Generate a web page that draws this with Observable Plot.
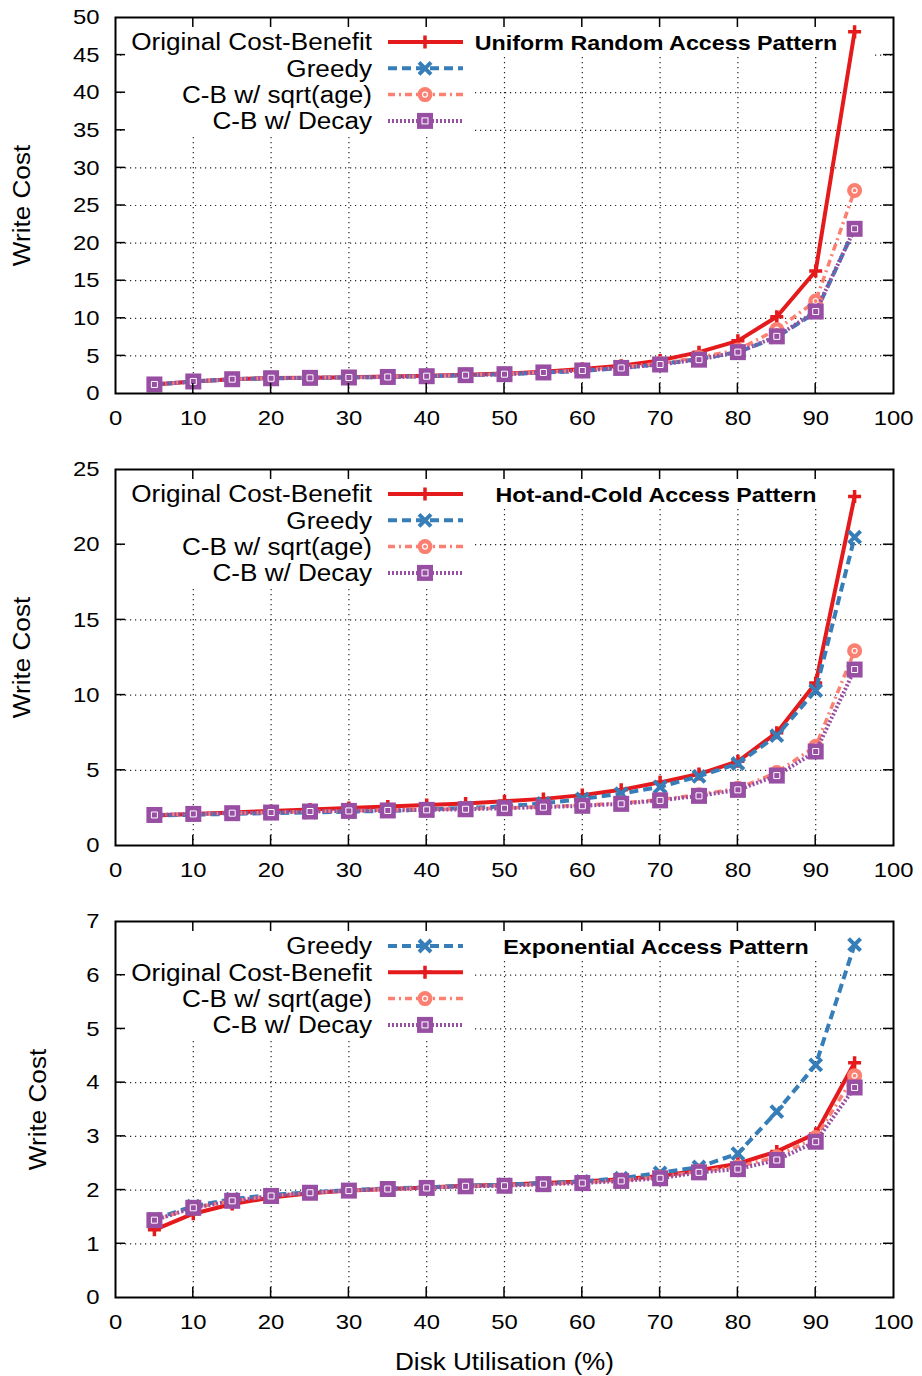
<!DOCTYPE html>
<html>
<head>
<meta charset="utf-8">
<script src="https://cdn.jsdelivr.net/npm/d3@7"></script>
<script src="https://cdn.jsdelivr.net/npm/@observablehq/plot@0.6"></script>
<style>
  body { margin: 0; background: #fff; }
  #chart svg { display: block; }
</style>
</head>
<body>
<div id="chart"></div>
<script>
// Disk utilisation (%) at which each write cost was measured
const utilisation = [5, 10, 15, 20, 25, 30, 35, 40, 45, 50, 55, 60, 65, 70, 75, 80, 85, 90, 95];

// Uniform random access pattern
const uniformOriginal = [1.2, 1.6, 1.9, 2.05, 2.1, 2.15, 2.25, 2.35, 2.5, 2.65, 2.9, 3.25, 3.7, 4.4, 5.5, 7.0, 10.2, 16.3, 48.1];
const uniformGreedy   = [1.2, 1.6, 1.9, 2.03, 2.08, 2.13, 2.2, 2.3, 2.43, 2.56, 2.78, 3.0, 3.4, 3.9, 4.6, 5.5, 7.5, 10.8, 21.9];
const uniformSqrtAge  = [1.2, 1.6, 1.9, 2.04, 2.09, 2.14, 2.22, 2.32, 2.46, 2.6, 2.82, 3.1, 3.5, 4.0, 4.8, 5.8, 8.5, 12.3, 27.0];
const uniformDecay    = [1.2, 1.6, 1.9, 2.03, 2.08, 2.13, 2.2, 2.3, 2.44, 2.57, 2.8, 3.06, 3.4, 3.86, 4.5, 5.5, 7.6, 10.9, 21.9];

// Hot-and-cold access pattern
const hotColdOriginal = [2.0, 2.1, 2.2, 2.3, 2.4, 2.5, 2.6, 2.7, 2.8, 2.95, 3.1, 3.35, 3.7, 4.2, 4.75, 5.6, 7.5, 10.8, 23.2];
const hotColdGreedy   = [2.0, 2.05, 2.1, 2.15, 2.2, 2.25, 2.3, 2.4, 2.5, 2.6, 2.8, 3.1, 3.45, 3.9, 4.6, 5.45, 7.3, 10.3, 20.5];
const hotColdSqrtAge  = [2.04, 2.1, 2.15, 2.2, 2.27, 2.31, 2.35, 2.4, 2.44, 2.5, 2.58, 2.68, 2.82, 3.05, 3.38, 3.8, 4.85, 6.6, 12.95];
const hotColdDecay    = [2.03, 2.1, 2.15, 2.19, 2.26, 2.3, 2.33, 2.37, 2.41, 2.48, 2.55, 2.64, 2.77, 3.0, 3.3, 3.7, 4.65, 6.25, 11.7];

// Exponential access pattern
const expGreedy   = [1.46, 1.7, 1.83, 1.91, 1.96, 2.0, 2.03, 2.05, 2.08, 2.1, 2.13, 2.16, 2.22, 2.32, 2.43, 2.68, 3.46, 4.33, 6.57];
const expOriginal = [1.26, 1.56, 1.74, 1.86, 1.94, 1.99, 2.02, 2.05, 2.08, 2.1, 2.13, 2.16, 2.2, 2.26, 2.37, 2.49, 2.72, 3.05, 4.37];
const expSqrtAge  = [1.44, 1.67, 1.8, 1.89, 1.95, 1.99, 2.02, 2.04, 2.07, 2.09, 2.11, 2.14, 2.18, 2.24, 2.35, 2.43, 2.62, 2.98, 4.13];
const expDecay    = [1.44, 1.67, 1.8, 1.89, 1.95, 1.99, 2.02, 2.04, 2.07, 2.08, 2.11, 2.13, 2.17, 2.22, 2.33, 2.39, 2.56, 2.9, 3.91];

// Tick values
const xTicks = [0, 10, 20, 30, 40, 50, 60, 70, 80, 90, 100];
const uniformYTicks = [0, 5, 10, 15, 20, 25, 30, 35, 40, 45, 50];
const hotColdYTicks = [0, 5, 10, 15, 20, 25];
const expYTicks = [0, 1, 2, 3, 4, 5, 6, 7];

// Series names
const ORIGINAL = "Original Cost-Benefit";
const GREEDY = "Greedy";
const SQRT = "C-B w/ sqrt(age)";
const DECAY = "C-B w/ Decay";
const drawOrder = [ORIGINAL, GREEDY, SQRT, DECAY];

// Line and marker styling per series
const seriesStyle = {
  [ORIGINAL]: {color: "#e41a1c", dash: null, width: 4, marker: "plus"},
  [GREEDY]: {color: "#377eb8", dash: "9,5", width: 4, marker: "times"},
  [SQRT]: {color: "#fb8072", dash: "7,4,2,4", width: 3.5, marker: "circle"},
  [DECAY]: {color: "#984ea3", dash: "2,2", width: 4, marker: "square"}
};

const FONT = "'Liberation Sans', Arial, Helvetica, sans-serif";

// Stroke-drawn symbols; the half-extent equals the dot radius
const half = (size) => Math.sqrt(size / Math.PI);
const plusSymbol = {draw(ctx, size) { const r = half(size); ctx.moveTo(-r, 0); ctx.lineTo(r, 0); ctx.moveTo(0, -r); ctx.lineTo(0, r); }};
const timesSymbol = {draw(ctx, size) { const r = half(size); ctx.moveTo(-r, -r); ctx.lineTo(r, r); ctx.moveTo(-r, r); ctx.lineTo(r, -r); }};
const squareSymbol = {draw(ctx, size) { const r = half(size); ctx.rect(-r, -r, 2 * r, 2 * r); }};
const circleSymbol = {draw(ctx, size) { const r = half(size); ctx.moveTo(r, 0); ctx.arc(0, 0, r, 0, 2 * Math.PI); }};

function markerMarks(rows, style) {
  const opts = {x: "u", y: "v"};
  switch (style.marker) {
    case "plus":
      return [Plot.dot(rows, {...opts, symbol: plusSymbol, r: 6.5, fill: "none", stroke: style.color, strokeWidth: 3.5})];
    case "times":
      return [Plot.dot(rows, {...opts, symbol: timesSymbol, r: 6, fill: "none", stroke: style.color, strokeWidth: 4})];
    case "circle":
      return [
        Plot.dot(rows, {...opts, symbol: circleSymbol, r: 7.5, fill: style.color, stroke: "none"}),
        Plot.dot(rows, {...opts, symbol: circleSymbol, r: 2.5, fill: "none", stroke: "white", strokeWidth: 1.2})
      ];
    case "square":
      return [
        Plot.dot(rows, {...opts, symbol: squareSymbol, r: 8, fill: style.color, stroke: "none"}),
        Plot.dot(rows, {...opts, symbol: squareSymbol, r: 3, fill: "none", stroke: "white", strokeWidth: 1})
      ];
  }
  return [];
}

// Legend sample marker in pixel space
function legendMarker(g, kind, cx, cy, color) {
  if (kind === "plus") {
    g.append("path").attr("d", `M${cx - 6.5},${cy}H${cx + 6.5}M${cx},${cy - 6.5}V${cy + 6.5}`)
      .attr("stroke", color).attr("stroke-width", 3.5).attr("fill", "none");
  } else if (kind === "times") {
    g.append("path").attr("d", `M${cx - 6},${cy - 6}L${cx + 6},${cy + 6}M${cx - 6},${cy + 6}L${cx + 6},${cy - 6}`)
      .attr("stroke", color).attr("stroke-width", 4).attr("fill", "none");
  } else if (kind === "circle") {
    g.append("circle").attr("cx", cx).attr("cy", cy).attr("r", 7.5).attr("fill", color);
    g.append("circle").attr("cx", cx).attr("cy", cy).attr("r", 2.5).attr("fill", "none").attr("stroke", "white").attr("stroke-width", 1.2);
  } else if (kind === "square") {
    g.append("rect").attr("x", cx - 8).attr("y", cy - 8).attr("width", 16).attr("height", 16).attr("fill", color);
    g.append("rect").attr("x", cx - 3).attr("y", cy - 3).attr("width", 6).attr("height", 6).attr("fill", "none").attr("stroke", "white").attr("stroke-width", 1);
  }
}

// Opaque key background (hides the grid behind the key and title)
function keyBackground() {
  return (index, scales, values, dims) => {
    const g = d3.create("svg:g").attr("fill", "white");
    const L = dims.marginLeft, T = dims.marginTop;
    g.append("rect").attr("x", L + 10).attr("y", T + 1).attr("width", 350).attr("height", 117);
    g.append("rect").attr("x", L + 360).attr("y", T + 1).attr("width", 397).attr("height", 39);
    return g.node();
  };
}

// Key entries and the panel title
function keyEntries(order, title) {
  return (index, scales, values, dims) => {
    const g = d3.create("svg:g").attr("font-family", FONT);
    const L = dims.marginLeft, T = dims.marginTop;
    order.forEach((name, i) => {
      const st = seriesStyle[name];
      const cy = T + 25 + i * 26.3;
      g.append("text").attr("x", L + 257).attr("y", cy).attr("dy", "0.36em")
        .attr("text-anchor", "end").attr("font-size", 23).attr("fill", "black").text(name);
      g.append("line").attr("x1", L + 273).attr("x2", L + 348).attr("y1", cy).attr("y2", cy)
        .attr("stroke", st.color).attr("stroke-width", st.width)
        .attr("stroke-dasharray", st.dash);
      legendMarker(g, st.marker, L + 310, cy, st.color);
    });
    g.append("text").attr("x", L + 541).attr("y", T + 26).attr("dy", "0.36em")
      .attr("text-anchor", "middle").attr("font-size", 20.5).attr("font-weight", "bold")
      .attr("fill", "black").text(title);
    return g.node();
  };
}

// Inward ticks on all four sides of the frame
function innerTicks(xt, yt, len) {
  return (index, {x, y}, values, dims) => {
    const g = d3.create("svg:g").attr("stroke", "black").attr("stroke-width", 1.5);
    const L = dims.marginLeft, T = dims.marginTop;
    const R = dims.width - dims.marginRight, B = dims.height - dims.marginBottom;
    for (const v of xt) {
      const px = x(v);
      g.append("line").attr("x1", px).attr("x2", px).attr("y1", B).attr("y2", B - len);
      g.append("line").attr("x1", px).attr("x2", px).attr("y1", T).attr("y2", T + len);
    }
    for (const v of yt) {
      const py = y(v);
      g.append("line").attr("x1", L).attr("x2", L + len).attr("y1", py).attr("y2", py);
      g.append("line").attr("x1", R).attr("x2", R - len).attr("y1", py).attr("y2", py);
    }
    return g.node();
  };
}

const panels = [
  {
    title: "Uniform Random Access Pattern",
    series: {[ORIGINAL]: uniformOriginal, [GREEDY]: uniformGreedy, [SQRT]: uniformSqrtAge, [DECAY]: uniformDecay},
    keyOrder: [ORIGINAL, GREEDY, SQRT, DECAY],
    yTicks: uniformYTicks, yMax: 50, height: 452, marginBottom: 59, yLabelDx: -93, xLabel: false
  },
  {
    title: "Hot-and-Cold Access Pattern",
    series: {[ORIGINAL]: hotColdOriginal, [GREEDY]: hotColdGreedy, [SQRT]: hotColdSqrtAge, [DECAY]: hotColdDecay},
    keyOrder: [ORIGINAL, GREEDY, SQRT, DECAY],
    yTicks: hotColdYTicks, yMax: 25, height: 452, marginBottom: 59, yLabelDx: -93, xLabel: false
  },
  {
    title: "Exponential Access Pattern",
    series: {[ORIGINAL]: expOriginal, [GREEDY]: expGreedy, [SQRT]: expSqrtAge, [DECAY]: expDecay},
    keyOrder: [GREEDY, ORIGINAL, SQRT, DECAY],
    yTicks: expYTicks, yMax: 7, height: 472, marginBottom: 79, yLabelDx: -77, xLabel: true
  }
];

const chart = document.getElementById("chart");
const plainNumber = (d) => String(d);

for (const p of panels) {
  const seriesMarks = [];
  for (const name of drawOrder) {
    const st = seriesStyle[name];
    const rows = utilisation.map((u, i) => ({u, v: p.series[name][i]}));
    seriesMarks.push(Plot.line(rows, {
      x: "u", y: "v", stroke: st.color, strokeWidth: st.width,
      strokeDasharray: st.dash, strokeLinejoin: "miter", strokeLinecap: "butt"
    }));
    seriesMarks.push(...markerMarks(rows, st));
  }

  const innerX = xTicks.slice(1, -1);
  const innerY = p.yTicks.slice(1, -1);

  const svg = Plot.plot({
    width: 922,
    height: p.height,
    marginTop: 17,
    marginLeft: 115,
    marginRight: 29,
    marginBottom: p.marginBottom,
    style: {fontFamily: FONT, fontSize: "21px", background: "white", color: "black", overflow: "visible"},
    x: {domain: [0, 100]},
    y: {domain: [0, p.yMax]},
    marks: [
      Plot.gridX(innerX, {stroke: "black", strokeOpacity: 0.85, strokeWidth: 1.2, strokeDasharray: "1.2,3.8"}),
      Plot.gridY(innerY, {stroke: "black", strokeOpacity: 0.85, strokeWidth: 1.2, strokeDasharray: "1.2,3.8"}),
      keyBackground(),
      ...seriesMarks,
      keyEntries(p.keyOrder, p.title),
      innerTicks(innerX, innerY, 10),
      Plot.axisX(xTicks, {tickSize: 0, tickPadding: 17, fontSize: 21, label: null, tickFormat: plainNumber}),
      Plot.axisY(p.yTicks, {tickSize: 0, tickPadding: 16, fontSize: 21, label: null, tickFormat: plainNumber}),
      Plot.text(["Write Cost"], {text: (d) => d, frameAnchor: "left", dx: p.yLabelDx, rotate: -90,
        fontSize: 23, textAnchor: "middle", lineAnchor: "middle"}),
      ...(p.xLabel ? [Plot.text(["Disk Utilisation (%)"], {text: (d) => d, frameAnchor: "bottom", dy: 65,
        fontSize: 23, textAnchor: "middle", lineAnchor: "middle"})] : []),
      Plot.frame({stroke: "black", strokeWidth: 2})
    ]
  });
  chart.appendChild(svg);
}

// Widen the lettering slightly to the chart's typeface proportions
chart.querySelectorAll("text").forEach((t) => {
  const len = t.getComputedTextLength();
  if (len > 0) {
    t.setAttribute("textLength", (len * 1.135).toFixed(2));
    t.setAttribute("lengthAdjust", "spacingAndGlyphs");
  }
});
</script>
</body>
</html>
